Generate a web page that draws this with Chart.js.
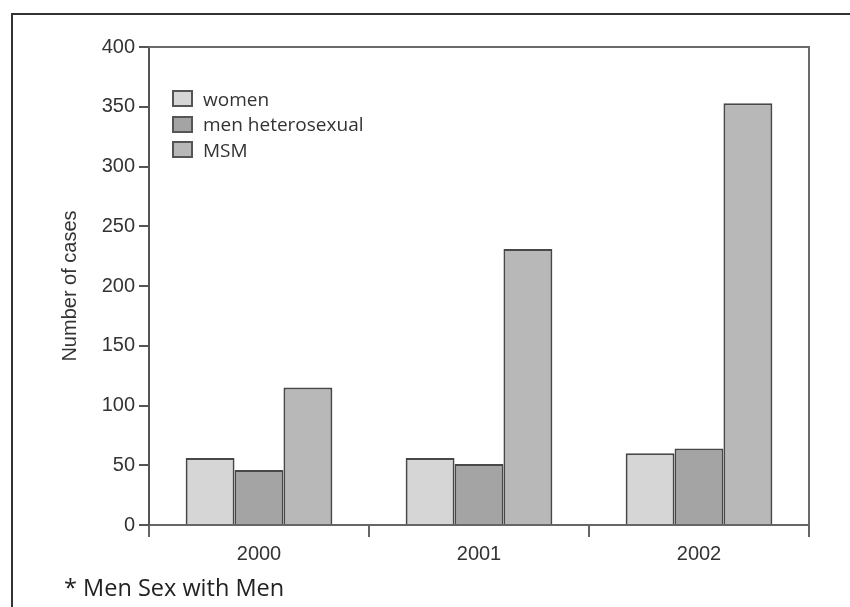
<!DOCTYPE html>
<html>
<head>
<meta charset="utf-8">
<script src="https://cdn.jsdelivr.net/npm/chart.js@4"></script>
<style>
  html, body { margin: 0; padding: 0; background: #fff; }
  #wrap { position: relative; width: 850px; height: 607px; overflow: hidden; }
  #frame { position: absolute; left: 11px; top: 13px; width: 900px; height: 700px;
           border-left: 2px solid #333; border-top: 2px solid #333; }
  canvas { position: absolute; left: 0; top: 0; }
  #legend { position: absolute; left: 172px; top: 86px; font-family: "Open Sans", sans-serif;
            font-size: 19px; color: #333; }
  #legend .row { height: 25.5px; display: flex; align-items: center; }
  #legend .box { width: 17px; height: 13px; border: 2px solid #555; margin-right: 10px; }
  #note { position: absolute; left: 64px; top: 571px; font-family: "Open Sans", sans-serif;
          font-size: 23.5px; color: #222; }
</style>
</head>
<body>
<div id="wrap">
  <div id="frame"></div>
  <canvas id="chart" width="850" height="607"></canvas>
  <div id="legend"></div>
  <div id="note">* Men Sex with Men</div>
</div>
<script>
//================= data
var years = ['2000', '2001', '2002'];
var seriesNames = ['women', 'men heterosexual', 'MSM'];
var women = [56, 56, 60];
var menHetero = [46, 51, 64];
var msm = [115, 231, 353];
var fills = ['#d6d6d6', '#a4a4a4', '#b8b8b8'];

//================= frame round the plot (top and right sides)
var plotFrame = {
    id: 'plotFrame',
    afterDraw: function(chart) {
        var a = chart.chartArea, c = chart.ctx;
        c.save();
        c.strokeStyle = '#6a6a6a';
        c.lineWidth = 2;
        c.beginPath();
        c.moveTo(a.left, a.top);
        c.lineTo(a.right, a.top);
        c.lineTo(a.right, a.bottom);
        c.stroke();
        c.restore();
    }
};

var seriesValues = [women, menHetero, msm];
var datasets = seriesNames.map(function(name, i) {
    return {
        label: name,
        data: seriesValues[i],
        backgroundColor: fills[i],
        borderColor: '#484848',
        borderWidth: 2,
        categoryPercentage: 0.667,
        barPercentage: 1.0
    };
});

var ctx = document.getElementById('chart').getContext('2d');
var chart = new Chart(ctx, {
    type: 'bar',
    data: { labels: years, datasets: datasets },
    options: {
        responsive: false,
        animation: false,
        layout: { padding: { top: 47, right: 41, left: 0, bottom: 0 } },
        plugins: { legend: { display: false }, tooltip: { enabled: false } },
        scales: {
            x: {
                grid: { offset: true, drawOnChartArea: false, drawTicks: true, tickLength: 12, color: '#666', lineWidth: 2 },
                border: { display: true, color: '#666', width: 2 },
                ticks: { color: '#333', padding: 5, font: { family: 'Liberation Sans', size: 20 } },
                afterFit: function(scale) { scale.height = 82; }
            },
            y: {
                min: 0,
                max: 400,
                ticks: { stepSize: 50, color: '#333', padding: 4, font: { family: 'Liberation Sans', size: 20 } },
                grid: { drawOnChartArea: false, drawTicks: true, tickLength: 10, color: '#555', lineWidth: 2 },
                border: { display: true, color: '#555', width: 2 },
                title: {
                    display: true,
                    text: 'Number of cases',
                    color: '#333',
                    font: { family: 'Liberation Sans', size: 20 },
                    padding: { top: 58, bottom: 0 }
                },
                afterFit: function(scale) { scale.width = 149; }
            }
        }
    },
    plugins: [plotFrame]
});

//================= legend inside the plot
var legend = document.getElementById('legend');
chart.data.datasets.forEach(function(ds) {
    var row = document.createElement('div');
    row.className = 'row';
    var box = document.createElement('span');
    box.className = 'box';
    box.style.background = ds.backgroundColor;
    var txt = document.createElement('span');
    txt.textContent = ds.label;
    row.appendChild(box);
    row.appendChild(txt);
    legend.appendChild(row);
});
</script>
</body>
</html>
